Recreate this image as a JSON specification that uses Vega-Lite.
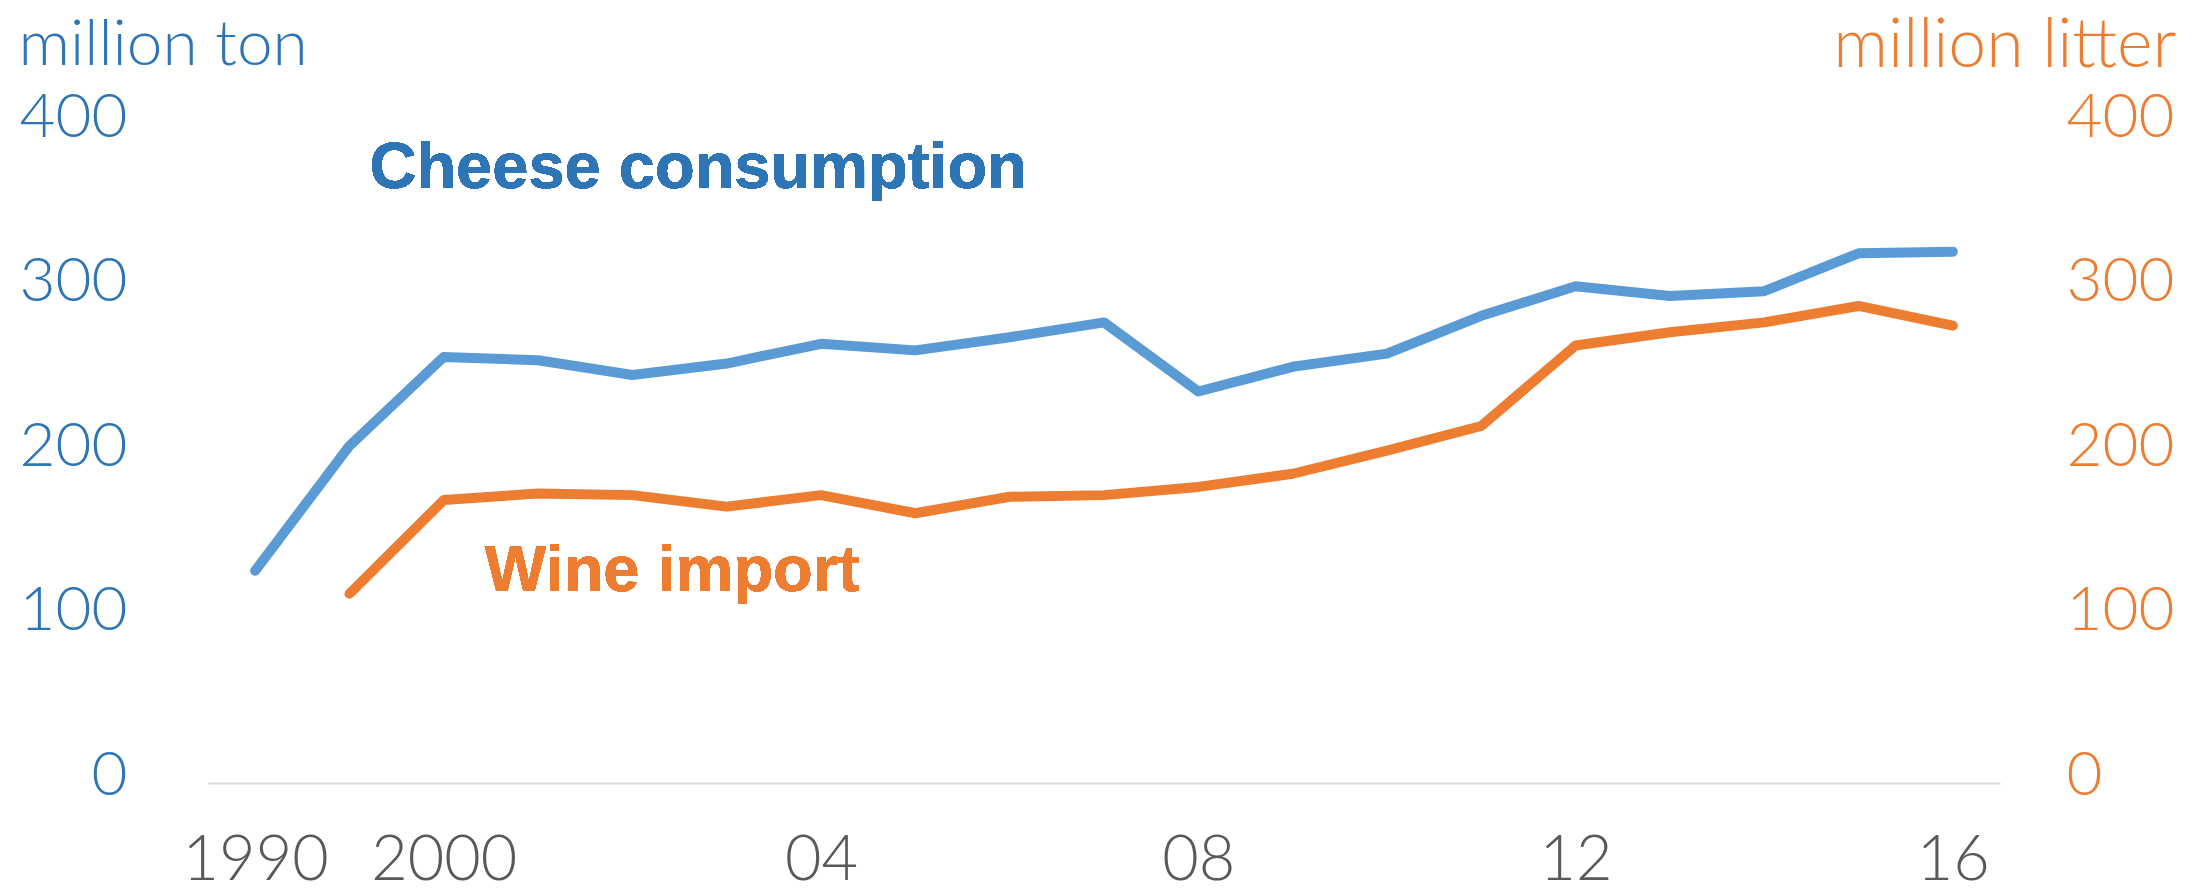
{
  "$schema": "https://vega.github.io/schema/vega-lite/v6.json",
  "width": 1792,
  "height": 658,
  "autosize": {"type": "none"},
  "padding": {"left": 208, "top": 125, "right": 204, "bottom": 109},
  "background": "white",
  "config": {"view": {"stroke": null}},
  "data": {
    "values": [
      {"year": 1990, "cheese": 129, "wine": null},
      {"year": 1995, "cheese": 205, "wine": 115},
      {"year": 2000, "cheese": 259, "wine": 172},
      {"year": 2001, "cheese": 257, "wine": 176},
      {"year": 2002, "cheese": 248, "wine": 175},
      {"year": 2003, "cheese": 255, "wine": 168},
      {"year": 2004, "cheese": 267, "wine": 175},
      {"year": 2005, "cheese": 263, "wine": 164},
      {"year": 2006, "cheese": 271, "wine": 174},
      {"year": 2007, "cheese": 280, "wine": 175},
      {"year": 2008, "cheese": 238, "wine": 180},
      {"year": 2009, "cheese": 253, "wine": 188},
      {"year": 2010, "cheese": 261, "wine": 202},
      {"year": 2011, "cheese": 284, "wine": 217},
      {"year": 2012, "cheese": 302, "wine": 266},
      {"year": 2013, "cheese": 296, "wine": 274},
      {"year": 2014, "cheese": 299, "wine": 280},
      {"year": 2015, "cheese": 322, "wine": 290},
      {"year": 2016, "cheese": 323, "wine": 278}
    ]
  },
  "encoding": {
    "x": {
      "field": "year",
      "type": "ordinal",
      "scale": {"type": "point", "padding": 0.5, "domain": [1990, 1995, 2000, 2001, 2002, 2003, 2004, 2005, 2006, 2007, 2008, 2009, 2010, 2011, 2012, 2013, 2014, 2015, 2016]},
      "axis": {
        "title": null,
        "values": [1990, 2000, 2004, 2008, 2012, 2016],
        "labelExpr": "datum.value == 1990 ? '1990' : datum.value == 2000 ? '2000' : datum.value == 2004 ? '04' : datum.value == 2008 ? '08' : datum.value == 2012 ? '12' : '16'",
        "labelAngle": 0,
        "labelFont": "Lato",
        "labelFontWeight": 300,
        "labelFontSize": 63,
        "labelColor": "#595959",
        "labelPadding": 46,
        "ticks": false,
        "tickSize": 0,
        "grid": false,
        "domain": true,
        "domainColor": "#D9D9D9",
        "domainWidth": 2
      }
    }
  },
  "layer": [
    {
      "mark": {"type": "line", "color": "#5B9BD5", "strokeWidth": 10, "strokeCap": "round", "strokeJoin": "round"},
      "encoding": {
        "y": {
          "field": "cheese",
          "type": "quantitative",
          "scale": {"domain": [0, 400]},
          "axis": {
            "orient": "left",
            "title": "million ton",
            "titleFont": "Lato",
            "titleFontWeight": 300,
            "titleFontSize": 64,
            "titleColor": "#2E75B6",
            "titleAngle": 0,
            "titleAlign": "left",
            "titleBaseline": "alphabetic",
            "titleX": -190,
            "titleY": -61,
            "values": [0, 100, 200, 300, 400],
            "labelFont": "Lato",
            "labelFontWeight": 300,
            "labelFontSize": 62,
            "labelColor": "#2E75B6",
            "labelPadding": 81,
            "labelOffset": -8,
            "ticks": false,
            "tickSize": 0,
            "domain": false,
            "grid": false
          }
        }
      }
    },
    {
      "mark": {"type": "line", "color": "#ED7D31", "strokeWidth": 10, "strokeCap": "round", "strokeJoin": "round"},
      "encoding": {
        "y": {
          "field": "wine",
          "type": "quantitative",
          "scale": {"domain": [0, 400]},
          "axis": {
            "orient": "right",
            "title": "million litter",
            "titleFont": "Lato",
            "titleFontWeight": 300,
            "titleFontSize": 68,
            "titleColor": "#ED7D31",
            "titleAngle": 0,
            "titleAlign": "right",
            "titleBaseline": "alphabetic",
            "titleX": 176,
            "titleY": -59,
            "values": [0, 100, 200, 300, 400],
            "labelFont": "Lato",
            "labelFontWeight": 300,
            "labelFontSize": 62,
            "labelColor": "#ED7D31",
            "labelPadding": 66,
            "labelOffset": -8,
            "ticks": false,
            "tickSize": 0,
            "domain": false,
            "grid": false
          }
        }
      }
    },
    {
      "mark": {"type": "text", "font": "Liberation Sans", "fontWeight": "bold", "fontSize": 65, "color": "#2E75B6", "align": "left", "baseline": "alphabetic", "dx": 20},
      "encoding": {
        "x": {"datum": 1995, "type": "ordinal"},
        "y": {"datum": 362, "type": "quantitative", "scale": {"domain": [0, 400]}, "axis": null},
        "text": {"value": "Cheese consumption"}
      }
    },
    {
      "mark": {"type": "text", "font": "Liberation Sans", "fontWeight": "bold", "fontSize": 65, "color": "#ED7D31", "align": "left", "baseline": "alphabetic", "dx": 41},
      "encoding": {
        "x": {"datum": 2000, "type": "ordinal"},
        "y": {"datum": 117, "type": "quantitative", "scale": {"domain": [0, 400]}, "axis": null},
        "text": {"value": "Wine import"}
      }
    }
  ],
  "resolve": {"scale": {"y": "independent"}}
}
